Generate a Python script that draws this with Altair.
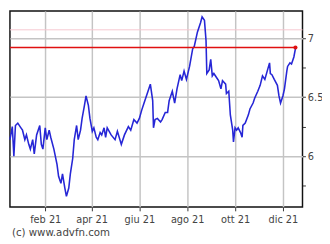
import altair as alt
import pandas as pd

dates = [
    "2020-12-18", "2020-12-21", "2020-12-23", "2020-12-25", "2020-12-28",
    "2021-01-01", "2021-01-03", "2021-01-06", "2021-01-08", "2021-01-11",
    "2021-01-13", "2021-01-16", "2021-01-18", "2021-01-21", "2021-01-25",
    "2021-01-27", "2021-01-29", "2021-02-01", "2021-02-03", "2021-02-06",
    "2021-02-08", "2021-02-12", "2021-02-16", "2021-02-18", "2021-02-21",
    "2021-02-23", "2021-02-26", "2021-02-28", "2021-03-03", "2021-03-05",
    "2021-03-08", "2021-03-10", "2021-03-13", "2021-03-15", "2021-03-18",
    "2021-03-20", "2021-03-23", "2021-03-25", "2021-03-28", "2021-03-30",
    "2021-04-02", "2021-04-04", "2021-04-07", "2021-04-09", "2021-04-12",
    "2021-04-14", "2021-04-17", "2021-04-19", "2021-04-21", "2021-04-26",
    "2021-05-01", "2021-05-04", "2021-05-09", "2021-05-13", "2021-05-18",
    "2021-05-21", "2021-05-25", "2021-05-29", "2021-06-01", "2021-06-04",
    "2021-06-07", "2021-06-10", "2021-06-15", "2021-06-18", "2021-06-19",
    "2021-06-21", "2021-06-24", "2021-06-28", "2021-06-30", "2021-07-04",
    "2021-07-07", "2021-07-09", "2021-07-13", "2021-07-16", "2021-07-19",
    "2021-07-23", "2021-07-25", "2021-07-28", "2021-07-31", "2021-08-04",
    "2021-08-08", "2021-08-10", "2021-08-14", "2021-08-18", "2021-08-20",
    "2021-08-23", "2021-08-25", "2021-08-26", "2021-08-29", "2021-08-31",
    "2021-09-02", "2021-09-04", "2021-09-08", "2021-09-10", "2021-09-13",
    "2021-09-15", "2021-09-19", "2021-09-20", "2021-09-23", "2021-09-25",
    "2021-09-28", "2021-09-29", "2021-10-01", "2021-10-03", "2021-10-05",
    "2021-10-08", "2021-10-10", "2021-10-11", "2021-10-14", "2021-10-18",
    "2021-10-20", "2021-10-24", "2021-10-26", "2021-10-30", "2021-11-02",
    "2021-11-05", "2021-11-08", "2021-11-11", "2021-11-14", "2021-11-15",
    "2021-11-17", "2021-11-20", "2021-11-24", "2021-11-26", "2021-11-28",
    "2021-12-01", "2021-12-03", "2021-12-06", "2021-12-07", "2021-12-10",
    "2021-12-12", "2021-12-15", "2021-12-17",
]
prices = [
    6.14, 6.25, 6.00, 6.26, 6.28,
    6.24, 6.22, 6.14, 6.18, 6.10,
    6.06, 6.14, 6.02, 6.18, 6.26,
    6.10, 6.06, 6.24, 6.14, 6.22,
    6.16, 6.06, 5.93, 5.83, 5.77,
    5.85, 5.73, 5.66, 5.73, 5.85,
    5.98, 6.14, 6.26, 6.14, 6.22,
    6.32, 6.43, 6.51, 6.43, 6.32,
    6.21, 6.24, 6.16, 6.14, 6.20,
    6.18, 6.24, 6.16, 6.24, 6.18,
    6.14, 6.21, 6.10, 6.18, 6.25,
    6.22, 6.31, 6.28, 6.32, 6.39,
    6.45, 6.51, 6.61, 6.47, 6.24,
    6.31, 6.32, 6.29, 6.31, 6.37,
    6.37, 6.47, 6.55, 6.45, 6.57,
    6.69, 6.64, 6.72, 6.65, 6.76,
    6.91, 6.93, 7.05, 7.13, 7.18,
    7.15, 6.98, 6.70, 6.73, 6.82,
    6.68, 6.70, 6.66, 6.64, 6.57,
    6.64, 6.61, 6.53, 6.55, 6.35,
    6.22, 6.12, 6.24, 6.22, 6.24,
    6.20, 6.16, 6.26, 6.28, 6.35,
    6.40, 6.45, 6.49, 6.55, 6.60,
    6.68, 6.65, 6.72, 6.79, 6.70,
    6.69, 6.65, 6.60, 6.51, 6.45,
    6.51, 6.57, 6.72, 6.76, 6.79,
    6.78, 6.84, 6.91,
]
ref_level = 6.92
pink_level = 7.07
y_ticks = [5.75, 6, 6.25, 6.5, 6.75, 7]
copyright_text = "(c) www.advfn.com"

df = pd.DataFrame({"date": dates, "price": prices})
ref_df = pd.DataFrame({"start": [dates[0]], "end": [dates[-1]], "level": [ref_level]})
pink_df = pd.DataFrame({"start": ["2020-12-18"], "end": ["2021-12-26"], "level": [pink_level]})
last_df = pd.DataFrame({"date": [dates[-1]], "level": [ref_level]})
txt_df = pd.DataFrame({"t": [copyright_text]})

months_it = "['gen','feb','mar','apr','mag','giu','lug','ago','set','ott','nov','dic']"

xscale = alt.Scale(
    type="utc",
    domain=[alt.DateTime(year=2020, month=12, date=18, utc=True),
            alt.DateTime(year=2021, month=12, date=26, utc=True)],
)
yscale = alt.Scale(domain=[5.57, 7.23], nice=False, zero=False)

xaxis = alt.Axis(
    title=None,
    values=[alt.DateTime(year=2021, month=m, date=1, utc=True) for m in [2, 4, 6, 8, 10, 12]],
    labelExpr=months_it + "[utcmonth(datum.value)] + ' ' + utcFormat(datum.value, '%y')",
    grid=True, gridColor="#c4c4c4", gridWidth=1.5,
    domain=False, tickColor="#333", tickSize=4, labelPadding=4,
    labelFont="DejaVu Sans", labelFontSize=10, labelColor="#444",
)
yaxis = alt.Axis(
    title=None, orient="right", values=y_ticks,
    labelExpr="datum.value % 0.5 == 0 ? '' + datum.value : ''",
    grid=True, gridColor="#c4c4c4", gridWidth=1.5,
    gridOpacity={"condition": {"test": "datum.value % 0.5 == 0", "value": 1}, "value": 0},
    domain=False, tickColor="#333", tickSize=3, labelPadding=2,
    labelFont="DejaVu Sans", labelFontSize=10, labelColor="#444",
)

line = alt.Chart(df).mark_line(color="#2626d6", strokeWidth=1.6).encode(
    x=alt.X("date:T", scale=xscale, axis=xaxis),
    y=alt.Y("price:Q", scale=yscale, axis=yaxis),
)
pink = alt.Chart(pink_df).mark_rule(color="#f6c6d0", strokeWidth=1).encode(
    x=alt.X("start:T", scale=xscale), x2="end:T", y=alt.Y("level:Q", scale=yscale)
)
ref = alt.Chart(ref_df).mark_rule(color="#e01010", strokeWidth=1.6).encode(
    x=alt.X("start:T", scale=xscale), x2="end:T", y=alt.Y("level:Q", scale=yscale)
)
dot = alt.Chart(last_df).mark_point(filled=True, color="#e01010", size=18, opacity=1).encode(
    x=alt.X("date:T", scale=xscale), y=alt.Y("level:Q", scale=yscale)
)
txt = alt.Chart(txt_df).mark_text(
    align="left", baseline="middle", font="DejaVu Sans", fontSize=10.5, color="#444"
).encode(x=alt.value(2), y=alt.value(228), text="t:N")

chart = alt.layer(pink, line, ref, dot, txt).properties(
    width=300, height=201,
    autosize=alt.AutoSizeParams(type="none"),
    padding={"left": 2, "top": 0, "right": 20, "bottom": 35},
    background="white",
).configure_view(stroke="#111", strokeWidth=1.5)

chart.save("out.html", embed_options={"renderer": "svg", "actions": False})
